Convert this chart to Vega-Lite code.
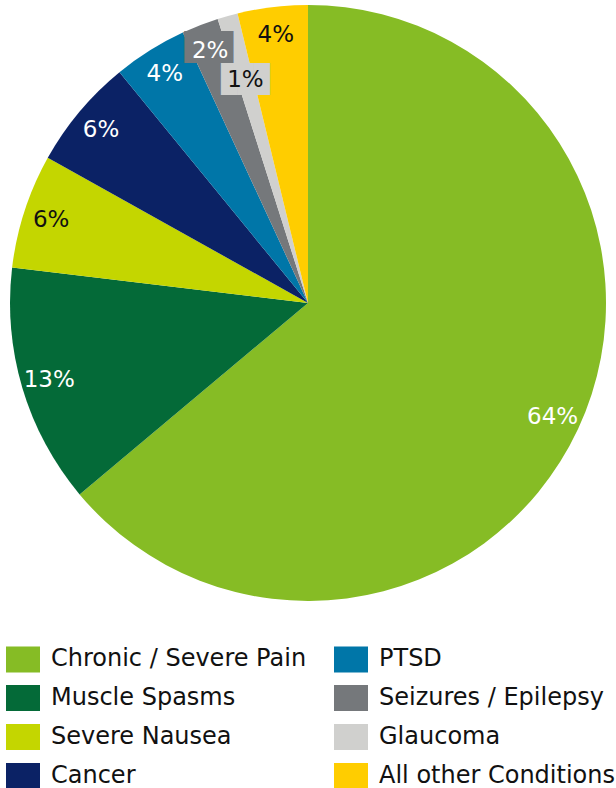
{
  "$schema": "https://vega.github.io/schema/vega-lite/v6.json",
  "width": 616,
  "height": 606,
  "padding": 0,
  "autosize": {"type": "pad"},
  "background": "white",
  "config": {"view": {"stroke": null}, "font": "DejaVu Sans"},
  "data": {
    "values": [
      {"condition": "Chronic / Severe Pain", "share": 0.639},
      {"condition": "Muscle Spasms", "share": 0.130},
      {"condition": "Severe Nausea", "share": 0.062},
      {"condition": "Cancer", "share": 0.060},
      {"condition": "PTSD", "share": 0.040},
      {"condition": "Seizures / Epilepsy", "share": 0.020},
      {"condition": "Glaucoma", "share": 0.011},
      {"condition": "All other Conditions", "share": 0.038}
    ]
  },
  "transform": [{"window": [{"op": "row_number", "as": "rank"}]}],
  "encoding": {
    "theta": {"field": "share", "type": "quantitative", "stack": true},
    "order": {"field": "rank", "type": "quantitative", "sort": "ascending"},
    "color": {
      "field": "condition",
      "type": "nominal",
      "sort": ["Chronic / Severe Pain", "Muscle Spasms", "Severe Nausea", "Cancer", "PTSD", "Seizures / Epilepsy", "Glaucoma", "All other Conditions"],
      "scale": {
        "domain": ["Chronic / Severe Pain", "Muscle Spasms", "Severe Nausea", "Cancer", "PTSD", "Seizures / Epilepsy", "Glaucoma", "All other Conditions"],
        "range": ["#86BC25", "#046A38", "#C4D600", "#0B2265", "#0076A8", "#75787B", "#D0D0CE", "#FFCD00"]
      },
      "legend": {
        "orient": "none",
        "legendX": 6,
        "legendY": 642,
        "columns": 2,
        "title": null,
        "padding": 0,
        "symbolType": "M-1,-0.765H1V0.765H-1Z",
        "symbolSize": 1156,
        "symbolStrokeWidth": 0,
        "symbolOpacity": 1,
        "labelFontSize": 24,
        "labelFont": "DejaVu Sans",
        "labelColor": "#111111",
        "labelOffset": 11,
        "labelLimit": 400,
        "rowPadding": 8,
        "columnPadding": 27
      }
    }
  },
  "layer": [
    {"mark": {"type": "arc", "outerRadius": 298, "strokeWidth": 0}},
    {
      "mark": {"type": "text", "radius": 274, "fontSize": 27, "font": "DejaVu Sans Mono", "baseline": "middle"},
      "encoding": {
        "text": {"condition": {"test": "datum.condition === 'Seizures / Epilepsy'", "value": "███"}, "value": ""},
        "color": {"value": "#75787B"}
      }
    },
    {
      "mark": {"type": "text", "radius": 232, "fontSize": 27, "font": "DejaVu Sans Mono", "baseline": "middle"},
      "encoding": {
        "text": {"condition": {"test": "datum.condition === 'Glaucoma'", "value": "███"}, "value": ""},
        "color": {"value": "#D0D0CE"}
      }
    },
    {
      "mark": {"type": "text", "radius": 270, "fontSize": 23, "baseline": "middle"},
      "encoding": {
        "text": {"condition": {"test": "datum.condition === 'Glaucoma'", "value": ""}, "field": "share", "type": "quantitative", "format": ".0%"},
        "color": {
          "condition": {"test": "datum.condition === 'Severe Nausea' || datum.condition === 'All other Conditions'", "value": "#111111"},
          "value": "white"
        }
      }
    },
    {
      "mark": {"type": "text", "radius": 232, "fontSize": 23, "baseline": "middle"},
      "encoding": {
        "text": {"condition": {"test": "datum.condition !== 'Glaucoma'", "value": ""}, "field": "share", "type": "quantitative", "format": ".0%"},
        "color": {"value": "#111111"}
      }
    }
  ]
}
